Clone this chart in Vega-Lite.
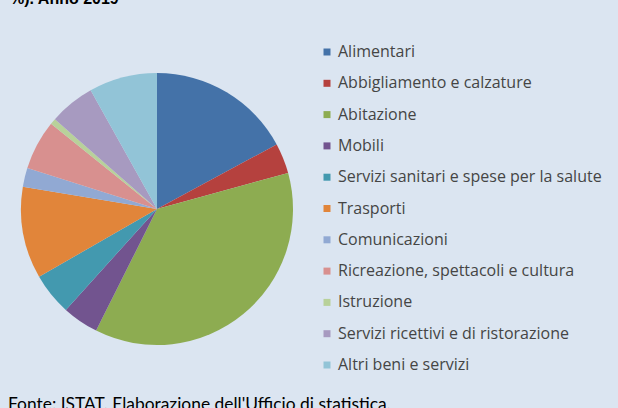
{
  "$schema": "https://vega.github.io/schema/vega-lite/v6.json",
  "background": "#dbe5f1",
  "padding": {"left": 8, "top": -9, "right": 60, "bottom": 0},
  "title": {"text": "%). Anno 2019", "anchor": "start", "font": "Liberation Sans", "fontSize": 16, "fontWeight": "bold", "color": "#000000", "offset": 9, "dx": 2},
  "config": {"view": {"stroke": null}, "concat": {"spacing": 0}},
  "vconcat": [
    {
      "width": 298,
      "height": 386,
      "title": {"text": "Fonte: ISTAT. Elaborazione dell'Ufficio di statistica.", "orient": "bottom", "anchor": "start", "font": "Lato", "fontSize": 17.4, "fontWeight": "normal", "color": "#000000", "offset": -6, "frame": "bounds"},
      "data": {"values": [
        {"voce": "Alimentari", "quota": 17.1, "ord": 1},
        {"voce": "Abbigliamento e calzature", "quota": 3.6, "ord": 2},
        {"voce": "Abitazione", "quota": 36.6, "ord": 3},
        {"voce": "Mobili", "quota": 4.3, "ord": 4},
        {"voce": "Servizi sanitari e spese per la salute", "quota": 5.0, "ord": 5},
        {"voce": "Trasporti", "quota": 10.9, "ord": 6},
        {"voce": "Comunicazioni", "quota": 2.25, "ord": 7},
        {"voce": "Ricreazione, spettacoli e cultura", "quota": 5.9, "ord": 8},
        {"voce": "Istruzione", "quota": 0.7, "ord": 9},
        {"voce": "Servizi ricettivi e di ristorazione", "quota": 5.4, "ord": 10},
        {"voce": "Altri beni e servizi", "quota": 8.1, "ord": 11}
      ]},
      "mark": {"type": "arc", "outerRadius": 136},
      "encoding": {
        "theta": {"field": "quota", "type": "quantitative", "stack": true},
        "order": {"field": "ord", "type": "quantitative"},
        "color": {
          "field": "voce", "type": "nominal",
          "scale": {
            "domain": ["Alimentari", "Abbigliamento e calzature", "Abitazione", "Mobili", "Servizi sanitari e spese per la salute", "Trasporti", "Comunicazioni", "Ricreazione, spettacoli e cultura", "Istruzione", "Servizi ricettivi e di ristorazione", "Altri beni e servizi"],
            "range": ["#4472A8", "#B5413E", "#8DAC51", "#72548F", "#4399AF", "#E1853A", "#91A9D3", "#D8908F", "#B8D19A", "#A79AC0", "#92C4D7"]
          },
          "legend": {
            "title": null,
            "orient": "none",
            "legendX": 311,
            "legendY": 28,
            "symbolType": "square",
            "symbolSize": 49,
            "symbolStrokeWidth": 0,
            "labelFont": "Open Sans",
            "labelFontSize": 16,
            "labelColor": "#454545",
            "labelOffset": 3,
            "rowPadding": 15.3,
            "labelLimit": 400
          }
        }
      }
    }
  ]
}
